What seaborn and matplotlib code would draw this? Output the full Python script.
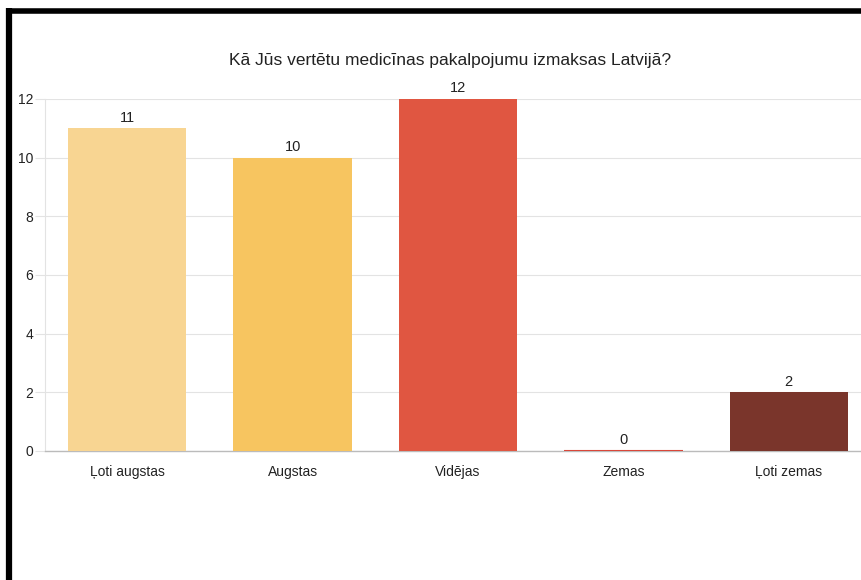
import matplotlib
matplotlib.use('Agg')
import matplotlib.pyplot as plt
import seaborn as sns
import pandas as pd

# Chart data
categories = ['Ļoti augstas', 'Augstas', 'Vidējas', 'Zemas', 'Ļoti zemas']
counts = [11, 10, 12, 0, 2]
bar_colors = ['#F8D592', '#F7C560', '#E05641', '#D9473A', '#7A352B']
y_ticks = [0, 2, 4, 6, 8, 10, 12]
title = 'Kā Jūs vertētu medicīnas pakalpojumu izmaksas Latvijā?'

df = pd.DataFrame({'category': categories, 'count': counts})

sns.set_theme(style='white')
plt.rcParams['font.family'] = ['Liberation Sans', 'DejaVu Sans']

fig = plt.figure(figsize=(8.61, 5.8), dpi=100)
# axes extends past the right edge, like the cropped screenshot
ax = fig.add_axes([44.5 / 861, 1 - 451 / 580, 827 / 861, 352 / 580])

sns.barplot(data=df, x='category', y='count', hue='category', palette=bar_colors,
            legend=False, width=0.715, saturation=1, linewidth=0, ax=ax, zorder=3)

# zero-height bar still drawn as a thin line
ax.plot([3 - 0.3575, 3 + 0.3575], [0, 0], color='#D9473A', lw=1.5, zorder=4,
        solid_capstyle='butt')

for i, v in enumerate(counts):
    ax.text(i, v + 0.12, str(v), ha='center', va='bottom', fontsize=10.5, color='#222222')

ax.set_ylim(0, 12)
ax.set_xlim(-0.5, 4.5)
ax.set_yticks(y_ticks)
ax.set_yticklabels([str(t) for t in y_ticks])
ax.yaxis.grid(True, color='#E3E3E3', lw=0.8, zorder=0)
ax.set_axisbelow(True)
ax.set_xlabel('')
ax.set_ylabel('')
for s in ['top', 'right']:
    ax.spines[s].set_visible(False)
ax.spines['left'].set_color('#E3E3E3')
ax.spines['left'].set_linewidth(0.8)
ax.spines['bottom'].set_color('#BBBBBB')
ax.spines['bottom'].set_linewidth(1.0)
ax.tick_params(axis='y', length=7.2, width=0.8, color='#E3E3E3', pad=1,
               labelsize=10, labelcolor='#222222', left=True)
ax.tick_params(axis='x', length=0, pad=10, labelsize=10, labelcolor='#222222')

fig.text(450 / 861, 1 - 60 / 580, title, ha='center', va='center',
         fontsize=12.5, color='#222222')

# black frame of the screenshot (top and left)
fig.add_artist(plt.Line2D([9 / 861, 9 / 861], [0, 1 - 8 / 580], color='black',
                          lw=4.5, solid_capstyle='butt', transform=fig.transFigure))
fig.add_artist(plt.Line2D([6.5 / 861, 1], [1 - 10.5 / 580, 1 - 10.5 / 580], color='black',
                          lw=4, solid_capstyle='butt', transform=fig.transFigure))

fig.savefig('out.png', dpi=100)
